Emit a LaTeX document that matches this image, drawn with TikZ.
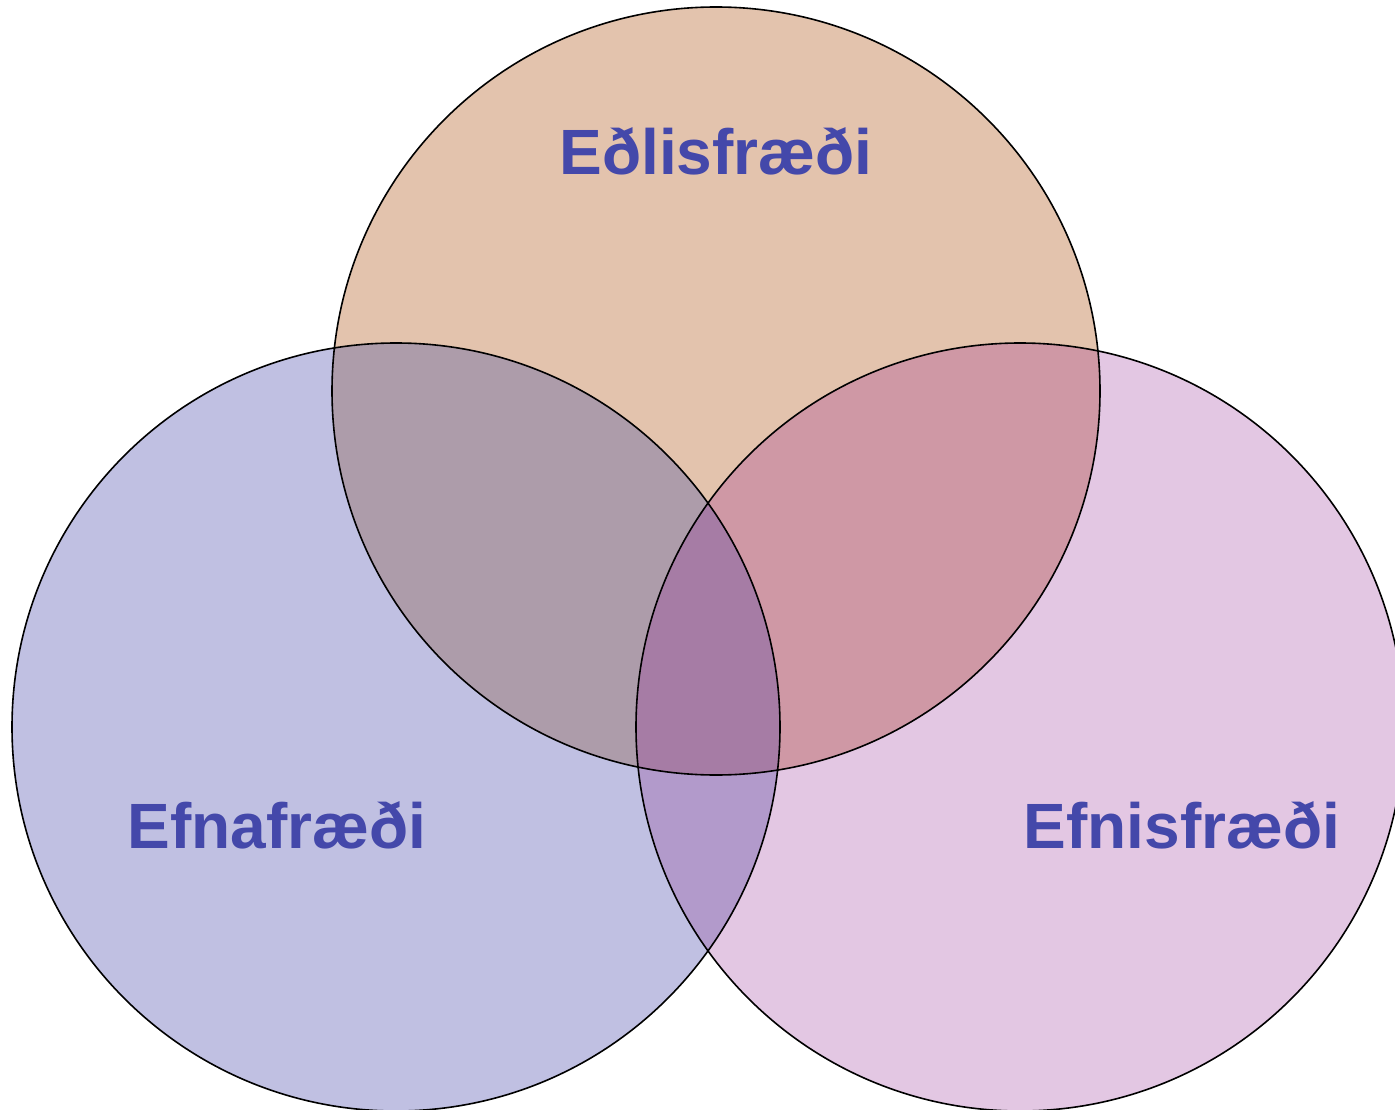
\documentclass[tikz,border=0pt]{standalone}
\usepackage{fontspec}
\setmainfont{Liberation Sans}
\definecolor{ctop}{HTML}{E3C3AD}
\definecolor{cleft}{HTML}{C0C0E2}
\definecolor{cright}{HTML}{E3C7E3}
\definecolor{ctl}{HTML}{AD9CAA}
\definecolor{ctr}{HTML}{CF98A5}
\definecolor{clr}{HTML}{B29ACB}
\definecolor{cmid}{HTML}{A67CA5}
\definecolor{ctext}{HTML}{4448AA}
\tikzset{lbl/.style={anchor=base,text=ctext,font=\fontsize{64}{70}\selectfont\bfseries},
outline/.style={draw=black,line width=1.6pt}}
\begin{document}
\begin{tikzpicture}[x=1pt,y=-1pt]
\useasboundingbox (0,0) rectangle (1395,1110);
\clip (0,0) rectangle (1395,1110);
\def\R{384}
\coordinate (T) at (716,391);
\coordinate (L) at (396,727);
\coordinate (Rc) at (1020,727);
\fill[ctop] (T) circle (\R);
\fill[cleft] (L) circle (\R);
\fill[cright] (Rc) circle (\R);
\begin{scope}\clip (T) circle (\R); \fill[ctl] (L) circle (\R);\end{scope}
\begin{scope}\clip (T) circle (\R); \fill[ctr] (Rc) circle (\R);\end{scope}
\begin{scope}\clip (L) circle (\R); \fill[clr] (Rc) circle (\R);\end{scope}
\begin{scope}\clip (T) circle (\R); \clip (L) circle (\R); \fill[cmid] (Rc) circle (\R);\end{scope}
\draw[outline] (T) circle (\R);
\draw[outline] (L) circle (\R);
\draw[outline] (Rc) circle (\R);
\node[lbl] (t1) at (716,175) {Eðlisfræði};
\node[lbl] (t2) at (277,848) {Efnafræði};
\node[lbl] (t3) at (1182,848) {Efnisfræði};
\end{tikzpicture}
\end{document}
